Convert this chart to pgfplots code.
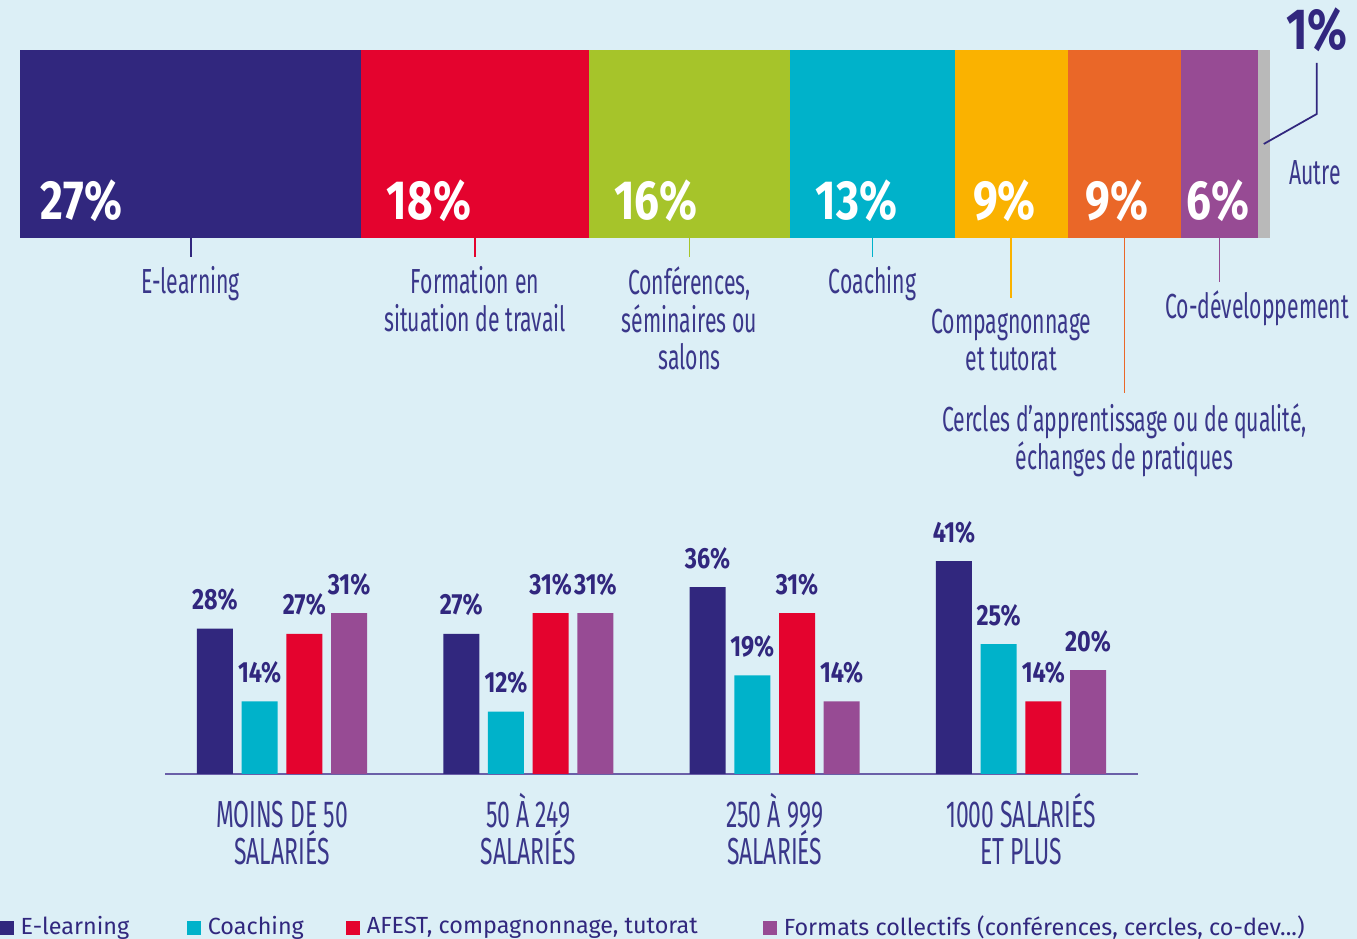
\documentclass[border=0pt]{standalone}
\usepackage{pgfplots}
\pgfplotsset{compat=1.18}
\usepackage{fontspec}
\setmainfont{Fira Sans}
\newfontfamily\condfont{Fira Sans}[FakeStretch=0.61]
\newfontfamily\numfont{Fira Sans}[FakeStretch=0.8]

\definecolor{bg}{RGB}{220,239,246}
\definecolor{elearn}{RGB}{49,39,126}
\definecolor{afest}{RGB}{228,3,46}
\definecolor{conf}{RGB}{166,196,42}
\definecolor{coach}{RGB}{0,178,202}
\definecolor{compa}{RGB}{250,178,0}
\definecolor{cercle}{RGB}{234,103,40}
\definecolor{codev}{RGB}{151,75,148}
\definecolor{autre}{RGB}{185,185,185}
\definecolor{labelc}{RGB}{58,55,138}
\definecolor{basel}{RGB}{106,95,168}

\tikzset{
  val/.style={anchor=west, inner sep=0pt, text=white,
    font=\numfont\bfseries\fontsize{15.7}{16}\selectfont},
  lab/.style={anchor=north, inner sep=0pt, align=center, text=labelc,
    font=\condfont\fontsize{9.9}{10.7}\selectfont},
  lead/.style={line width=0.5pt}
}

\begin{document}
\begin{tikzpicture}
\fill[bg] (0,0) rectangle (135.7mm,93.9mm);

% ---- stacked bar: formats used ----
\begin{axis}[
    at={(2mm,70.1mm)}, anchor=south west,
    scale only axis, width=125mm, height=18.8mm,
    xbar stacked, bar width=18.8mm,
    xmin=0, xmax=100, ymin=-0.5, ymax=0.5,
    enlargelimits=false, hide axis, clip=false,
    every axis plot/.append style={draw=none}
]
\addplot[fill=elearn] coordinates {(27.3,0)};
\addplot[fill=afest]  coordinates {(18.2,0)};
\addplot[fill=conf]   coordinates {(16.1,0)};
\addplot[fill=coach]  coordinates {(13.2,0)};
\addplot[fill=compa]  coordinates {(9.0,0)};
\addplot[fill=cercle] coordinates {(9.1,0)};
\addplot[fill=codev]  coordinates {(6.1,0)};
\addplot[fill=autre]  coordinates {(1.0,0)};

% anchor points for the annotations
\coordinate (v1) at (axis cs:1.6,-0.3);
\coordinate (v2) at (axis cs:29.3,-0.3);
\coordinate (v3) at (axis cs:47.5,-0.3);
\coordinate (v4) at (axis cs:63.6,-0.3);
\coordinate (v5) at (axis cs:76.2,-0.3);
\coordinate (v6) at (axis cs:85.2,-0.3);
\coordinate (v7) at (axis cs:93.3,-0.3);
\coordinate (b1) at (axis cs:13.65,-0.5);
\coordinate (b2) at (axis cs:36.4,-0.5);
\coordinate (b3) at (axis cs:53.55,-0.5);
\coordinate (b4) at (axis cs:68.2,-0.5);
\coordinate (b5) at (axis cs:79.3,-0.5);
\coordinate (b6) at (axis cs:88.35,-0.5);
\coordinate (b7) at (axis cs:95.95,-0.5);
\coordinate (b7l) at (axis cs:98.96,-0.5);
\coordinate (b8) at (axis cs:99.5,0);
\coordinate (aut) at (axis cs:103.6,-0.154);
\end{axis}

% values inside the segments
\node[val] at (v1) {27\%};
\node[val] at (v2) {18\%};
\node[val] at (v3) {16\%};
\node[val] at (v4) {13\%};
\node[val] at (v5) {9\%};
\node[val] at (v6) {9\%};
\node[val] at (v7) {6\%};

% leader lines and names
\draw[lead, elearn] (b1) -- ++(0mm,-1.9mm);
\node[lab] at ([yshift=-2.8mm]b1) {E-learning};
\draw[lead, afest] (b2) -- ++(0mm,-1.9mm);
\node[lab] at ([yshift=-2.8mm]b2) {Formation en\\situation de travail};
\draw[lead, conf] (b3) -- ++(0mm,-1.9mm);
\node[lab] at ([yshift=-2.8mm]b3) {Conférences,\\séminaires ou\\salons};
\draw[lead, coach] (b4) -- ++(0mm,-1.9mm);
\node[lab] at ([yshift=-2.8mm]b4) {Coaching};
\draw[lead, compa] (b5) -- ++(0mm,-6.0mm);
\node[lab] at ([yshift=-7.0mm]b5) {Compagnonnage\\et tutorat};
\draw[lead, cercle] (b6) -- ++(0mm,-15.5mm);
\node[lab] at ([yshift=-16.5mm]b6) {Cercles d’apprentissage ou de qualité,\\échanges de pratiques};
\draw[lead, codev] (b7) -- ++(0mm,-4.4mm);
\node[lab] at ([yshift=-5.2mm]b7l) {Co-développement};
\draw[lead, elearn] (b8) -- ++(5.3mm,3mm) -- ++(0mm,5.1mm)
    node[anchor=south, inner sep=0pt, yshift=1mm, text=elearn,
         font=\numfont\bfseries\fontsize{16.5}{17}\selectfont] {1\%};
\node[lab, anchor=center] at (aut) {Autre};

% ---- grouped bars by company size ----
\begin{axis}[
    at={(16.5mm,16.5mm)}, anchor=south west,
    scale only axis, width=97.3mm, height=23.36mm,
    ybar=0.87mm, bar width=3.6mm,
    xmin=-0.475, xmax=3.475, ymin=0, ymax=45,
    axis y line=none, axis x line*=bottom,
    x axis line style={draw=basel, line width=0.6pt, -},
    xtick={0,1,2,3},
    xticklabels={{MOINS DE 50\vphantom{À}\\SALARIÉS},{50 À 249\\SALARIÉS},{250 À 999\\SALARIÉS},{1000 SALARIÉS\\ET PLUS}},
    major tick length=0pt,
    xticklabel style={align=center, anchor=north, inner sep=0pt, yshift=-1.9mm,
        text=labelc, font=\condfont\fontsize{10.7}{10.5}\selectfont},
    nodes near coords={\pgfmathprintnumber[assume math mode=true]{\pgfplotspointmeta}\%},
    every node near coord/.append style={inner sep=0pt, yshift=1.7mm, text=elearn,
        font=\numfont\bfseries\fontsize{8.3}{9}\selectfont},
    every axis plot/.append style={draw=none},
    legend columns=4,
    legend style={at={(-0.1706,-0.6600)}, anchor=west, draw=none, fill=none,
        inner sep=0pt, text=elearn, font=\fontsize{6.65}{8}\selectfont,
        /tikz/every even column/.append style={column sep=0pt}},
    legend image code/.code={\path[#1,draw=none] (0mm,-0.7mm) rectangle (1.4mm,0.7mm);}
]
\addplot[fill=elearn] coordinates {(0,28) (1,27) (2,36) (3,41)};
\addlegendentry{\makebox[15.9mm][l]{E-learning}}
\addplot[fill=coach] coordinates {(0,14) (1,12) (2,19) (3,25)};
\addlegendentry{\makebox[13.1mm][l]{Coaching}}
\addplot[fill=afest] coordinates {(0,27) (1,31) (2,31) (3,14)};
\addlegendentry{\makebox[38.9mm][l]{AFEST,  compagnonnage, tutorat}}
\addplot[fill=codev] coordinates {(0,31) (1,31) (2,14) (3,20)};
\addlegendentry{Formats collectifs (conférences, cercles, co-dev...)}
\end{axis}

\pgfresetboundingbox
\path[use as bounding box] (0,0) rectangle (135.7mm,93.9mm);
\end{tikzpicture}
\end{document}
